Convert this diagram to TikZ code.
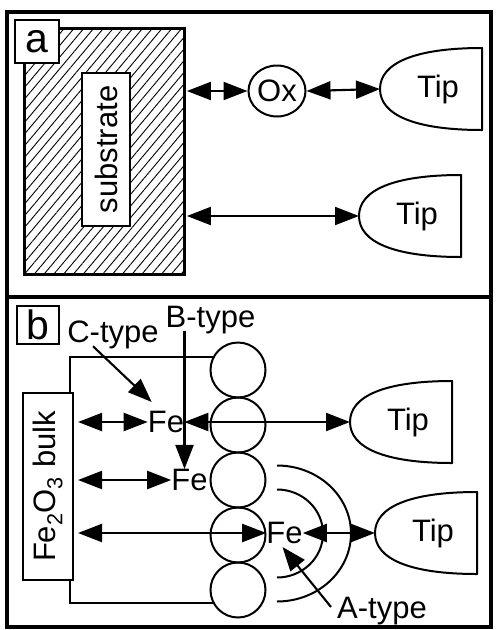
\documentclass[tikz,border=0pt]{standalone}
\usepackage{fontspec}
\setmainfont{Liberation Sans}
\usetikzlibrary{arrows.meta,patterns.meta,calc,shapes.geometric}
\begin{document}
\begin{tikzpicture}[x=1pt,y=-1pt,
  frame/.style={line width=3.8pt},
  lbl/.style={draw,line width=2pt,fill=white,font=\fontsize{41}{41}\selectfont,inner sep=0pt},
  txt/.style={font=\fontsize{31}{31}\selectfont,inner sep=0pt},
  atom/.style={circle,draw,line width=2pt,minimum size=55pt,inner sep=0pt},
  dbl/.style={line width=2.1pt,{Triangle[length=24pt,width=18pt]}-{Triangle[length=24pt,width=18pt]}},
  ptr/.style={line width=2.1pt,-{Triangle[length=24pt,width=18pt]}},
  tipshape/.pic={
    \draw[line width=2pt,line join=round] (0,0) .. controls (0,-26) and (35,-41) .. (102,-41) -- (102,41) .. controls (35,41) and (0,26) .. (0,0) -- cycle;
    \coordinate (-left) at (0,0);
    \node[txt] (-label) at (58,0) {Tip};
  }]
\useasboundingbox (0,0) rectangle (496,630);
% panel frames
\draw[frame] (7,12) rectangle (491,297);
\draw[frame] (7,297) rectangle (491,627);

% ---------- panel a ----------
\node[draw,line width=2.3pt,pattern={Lines[angle=50,distance=7.5pt,line width=0.9pt]},
      minimum width=160pt,minimum height=246pt,inner sep=0pt,anchor=north west] (sub) at (24,28) {};
\node[lbl,anchor=north west,minimum width=44pt,minimum height=43pt] (la) at (14,19) {a};
\node[draw,line width=2pt,fill=white,rotate=90,txt,minimum width=153pt,minimum height=48pt] (substr) at (106,149.5) {substrate};
\node[ellipse,draw,line width=2pt,minimum width=57pt,minimum height=51pt,txt] (ox) at (277,91) {Ox};
\pic (tA1) at (380,89) {tipshape};
\pic (tA2) at (359,216) {tipshape};
\coordinate (sR) at ($(sub.east)+(2,0)$);
\draw[dbl] (sR |- ox.west) -- (ox.west);
\draw[dbl] (ox.east) -- (tA1-left);
\draw[dbl] (sR |- tA2-left) -- (tA2-left);

% ---------- panel b ----------
\foreach \i/\yy in {1/370,2/425,3/480,4/535,5/590}
  \node[atom] (c\i) at (238,\yy) {};
\coordinate (bx) at (70,0);
\draw[line width=2pt] (c1.152) -- (c1.152 -| bx) -- (c5.208 -| bx) -- (c5.208);
\node[draw,line width=2pt,fill=white,rotate=90,txt,minimum width=187pt,minimum height=50pt] (bulk) at (48,486.5) {Fe\textsubscript{2}O\textsubscript{3} bulk};
\node[lbl,anchor=north west,minimum width=42pt,minimum height=38pt] (lb) at (16,305) {b};
\node[txt] (ctype) at (113,335) {C-type};
\node[txt] (btype) at (210.5,320) {B-type};
\node[txt] (atype) at (382,611) {A-type};
\node[txt] (fe1) at (166,422) {Fe};
\node[txt] (fe2) at (189.5,480) {Fe};
\node[txt] (fe3) at (284.5,533) {Fe};
\pic (tB1) at (350,422) {tipshape};
\pic (tB2) at (375,533) {tipshape};

% arcs around A-type Fe
\draw[line width=2pt] (277,489.5) arc[start angle=90,end angle=-90,x radius=46pt,y radius=44pt];
\draw[line width=2pt] (277,465.5) arc[start angle=90,end angle=-90,x radius=74pt,y radius=68pt];

\coordinate (bR) at ($(bulk.south)+(4,0)$);
\draw[dbl] (bR |- fe1) -- (fe1.west);
\draw[dbl] (bR |- fe2) -- (fe2.west);
\draw[dbl] (bR |- fe3) -- (fe3.west);
\draw[dbl] (fe1.east) -- (tB1-left);
\draw[dbl] (fe3.east) -- (tB2-left);
\draw[ptr] ($(ctype.south)+(-20,-3)$) -- ($(fe1.north west)+(4,-9)$);
\coordinate (bs) at ($(btype.south west)+(19,-3)$);
\draw[ptr] (bs) -- (bs |- fe2.north);
\draw[ptr] ($(atype.west)+(-6,-4)$) -- ($(fe3.south)+(-2,3)$);
\end{tikzpicture}
\end{document}
